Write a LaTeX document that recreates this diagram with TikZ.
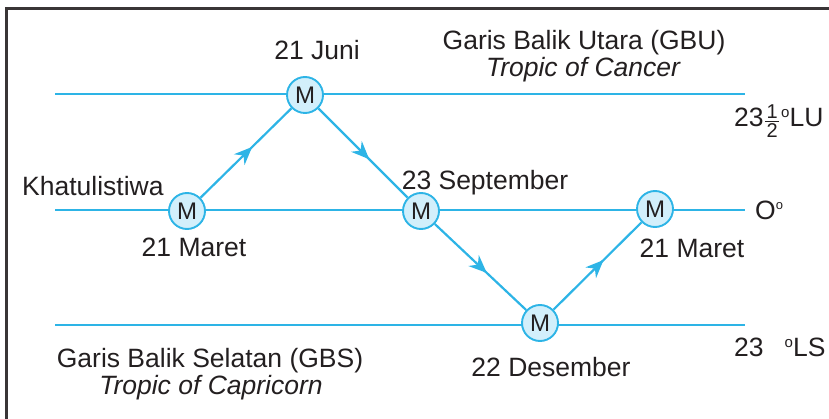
\documentclass[tikz,border=0pt]{standalone}
\usepackage{fontspec}
\setmainfont{Liberation Sans}
\usetikzlibrary{arrows.meta,decorations.markings}
\definecolor{cy}{HTML}{2DB4E6}
\definecolor{cyfill}{HTML}{D2EFFB}
\definecolor{ink}{HTML}{231F20}
\newcommand\myhalf{\raisebox{-11pt}{\vbox{\hbox to 14pt{\hfil\fontsize{20}{20}\selectfont 1\hfil}\kern2.2pt\hrule height 1.1pt\kern2.2pt\hbox to 14pt{\hfil\fontsize{20}{20}\selectfont 2\hfil}}}}
\begin{document}
\begin{tikzpicture}[x=1pt,y=-1pt,
  lat/.style={draw=cy, line width=2.6pt},
  orbit/.style={draw=cy, line width=2.2pt, postaction={decorate},
    decoration={markings, mark=at position 0.57 with {\arrow{Stealth[length=18pt,width=15pt]}}}},
  sun/.style={circle, draw=cy, fill=cyfill, line width=1.9pt, minimum size=36pt,
    inner sep=0pt, font=\fontsize{24}{24}\selectfont, text=ink},
  lbl/.style={font=\fontsize{26.5}{30}\selectfont, text=ink, inner sep=0pt, anchor=base},
  frame/.style={draw=ink!90, line width=2.6pt}]
\useasboundingbox (0,0) rectangle (829,419);
% frame
\coordinate (fa) at (6.2,419);
\coordinate (fb) at (6.2,8.7);
\coordinate (fc) at (829,8.7);
\draw[frame] (fa) -- (fb) -- (fc);
% latitude lines
\coordinate (gbuL) at (55,94);  \coordinate (gbuR) at (745,94);
\coordinate (eqL)  at (55,210); \coordinate (eqR)  at (745,210);
\coordinate (gbsL) at (55,325); \coordinate (gbsR) at (745,325);
\draw[lat] (gbuL) -- (gbuR);
\draw[lat] (eqL) -- (eqR);
\draw[lat] (gbsL) -- (gbsR);
% sun positions
\node[sun] (m1) at (187,211) {M};
\node[sun] (m2) at (305,95) {M};
\node[sun] (m3) at (421,211) {M};
\node[sun] (m4) at (540,323) {M};
\node[sun] (m5) at (655,209) {M};
% orbit path
\draw[orbit] (m1) -- (m2);
\draw[orbit] (m2) -- (m3);
\draw[orbit] (m3) -- (m4);
\draw[orbit] (m4) -- (m5);
% labels
\node[lbl] (juni) at (317,60) {21 Juni};
\node[lbl] (gbu) at (584,50) {Garis Balik Utara (GBU)};
\node[lbl] (cancer) at (583,77) {\itshape Tropic of Cancer};
\node[lbl, anchor=base west] (khat) at (22,196) {Khatulistiwa};
\node[lbl] (maret1) at (194,257) {21 Maret};
\node[lbl] (sept) at (485,190) {23 September};
\node[lbl, anchor=base west] (nol) at (755,220) {O\raisebox{10pt}{\fontsize{13}{13}\selectfont o}};
\node[lbl, ] (maret2) at (692,258) {21 Maret};
\node[lbl] (gbs) at (210,367) {Garis Balik Selatan (GBS)};
\node[lbl] (capr) at (211,394) {\itshape Tropic of Capricorn};
\node[lbl] (des) at (551,376) {22 Desember};
\node[lbl, anchor=base west] (lu) at (734,127) {23\hspace{1.5pt}\myhalf\hspace{2pt}\raisebox{9pt}{\fontsize{15}{15}\selectfont o}LU};
\node[lbl, anchor=base west] (ls) at (734,356) {23\hspace{21pt}\raisebox{9pt}{\fontsize{15}{15}\selectfont o}LS};
\end{tikzpicture}
\end{document}
